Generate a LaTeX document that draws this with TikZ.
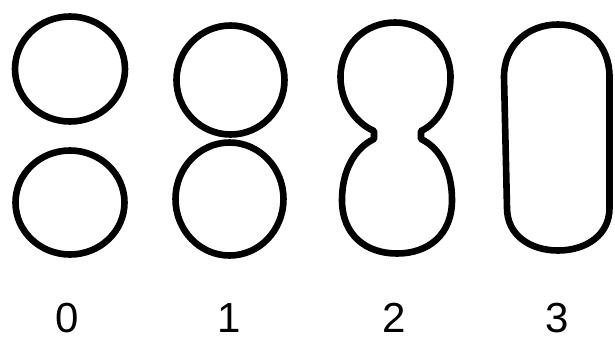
\documentclass[tikz,border=0pt]{standalone}
\usepackage{fontspec}
\setmainfont{Liberation Sans}
\begin{document}
\begin{tikzpicture}[x=1pt,y=-1pt,
  outline/.style={line width=6.6pt,draw=black,line join=round},
  digit/.style={font=\fontsize{42}{42}\selectfont,anchor=base,inner sep=0pt}]
\useasboundingbox (0,0) rectangle (615,338);
% stage 0
\draw[outline] (70,69) ellipse [x radius=55,y radius=52.5];
\draw[outline] (70,202.5) ellipse [x radius=54.5,y radius=52];
% stage 1
\draw[outline] (230.5,80) ellipse [x radius=54,y radius=54.5];
\draw[outline] (229.5,199) ellipse [x radius=54,y radius=56.5];
% stage 2
\draw[outline] (374,131)
  .. controls (358,124) and (340.5,105) .. (340.5,77)
  .. controls (340.5,45) and (365,22.5) .. (395,22.5)
  .. controls (425,22.5) and (450.5,45) .. (450.5,77)
  .. controls (450.5,105) and (436,124) .. (421,131)
  -- (421,139)
  .. controls (440,148) and (452,170) .. (452,200)
  .. controls (452,235) and (428,253.5) .. (397,253.5)
  .. controls (366,253.5) and (342,235) .. (342,200)
  .. controls (342,170) and (355,148) .. (374,139)
  -- cycle;
% stage 3
\draw[outline] (504,77) -- (507,208)
  .. controls (507,235) and (530,250.5) .. (558,250.5)
  .. controls (586,250.5) and (609.5,235) .. (609.5,208)
  -- (609.5,77)
  .. controls (609.5,45) and (588,24.5) .. (558,24.5)
  .. controls (528,24.5) and (504,45) .. (504,77) -- cycle;
% labels
\node[digit] (l0) at (67,332) {0};
\node[digit] (l1) at (229,332) {1};
\node[digit] (l2) at (394,332) {2};
\node[digit] (l3) at (557,332) {3};
\end{tikzpicture}
\end{document}
